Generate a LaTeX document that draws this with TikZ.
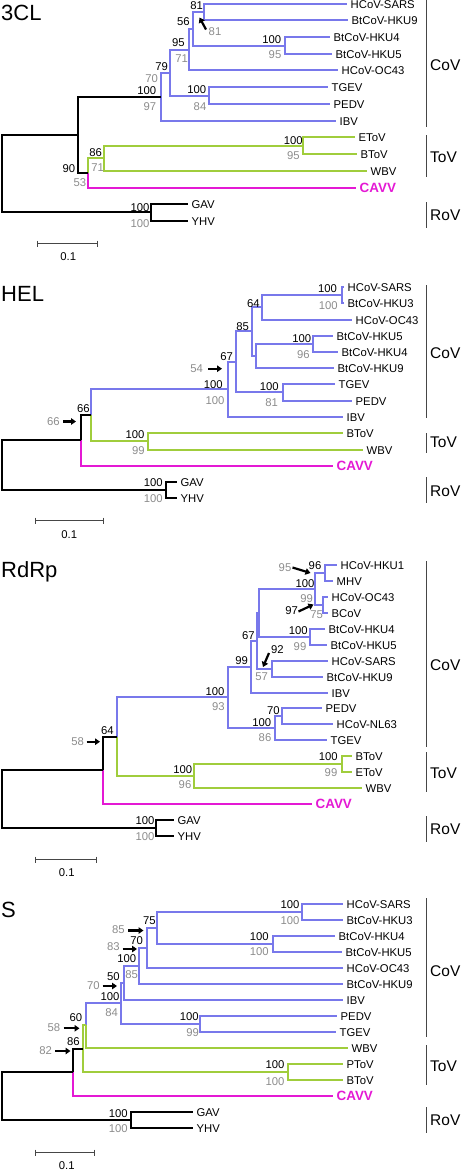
\documentclass[tikz,border=0pt]{standalone}
\usepackage{fontspec}
\setmainfont{Liberation Sans}
\usetikzlibrary{arrows.meta}
\definecolor{cvb}{RGB}{120,120,235}
\definecolor{tvg}{RGB}{160,205,60}
\definecolor{cav}{RGB}{228,25,212}
\definecolor{bsgc}{RGB}{140,140,140}
\definecolor{barc}{RGB}{70,70,70}
\begin{document}
\begin{tikzpicture}[x=1pt,y=-1pt,
 brB/.style={draw=cvb,line width=2pt},
 brG/.style={draw=tvg,line width=2pt},
 brM/.style={draw=cav,line width=2pt},
 brK/.style={draw=black,line width=2pt},
 leaf/.style={anchor=west,inner xsep=3.5pt,inner ysep=0pt,text height=8.1pt,text depth=0pt,font=\fontsize{11.3}{12}\selectfont},
 cavv/.style={anchor=west,inner xsep=3.5pt,inner ysep=0pt,text height=9.6pt,text depth=0pt,text=cav,font=\fontsize{13.4}{14}\selectfont\bfseries},
 bsK/.style={inner sep=0pt,text height=8.1pt,text depth=0pt,font=\fontsize{11.3}{12}\selectfont},
 bsG/.style={bsK,text=bsgc},
 ttl/.style={anchor=west,inner sep=0pt,text height=15.8pt,text depth=0pt,font=\fontsize{22}{24}\selectfont},
 grp/.style={anchor=west,inner xsep=3pt,inner ysep=0pt,text height=11.1pt,text depth=0pt,font=\fontsize{15.5}{17}\selectfont},
 gbar/.style={draw=barc,line width=1pt},
 sbar/.style={draw=barc,line width=1pt},
 barrow/.style={draw=black,line width=2.2pt,-{Triangle[length=5pt,width=6.5pt]}},
]
\useasboundingbox (0,0) rectangle (462,1170);

%%%%%%%%%%%%%%%% Panel A: 3CL
\node[ttl] (aT) at (1,12.8) {3CL};
\coordinate (a81) at (204,12);
\coordinate (a45) at (285,46);
\coordinate (a56) at (193,29);
\coordinate (a95) at (189,50);
\coordinate (aTP) at (209,96);
\coordinate (a79) at (170,73);
\coordinate (aCoV) at (161,97);
\coordinate (aEB) at (303,146);
\coordinate (aToV) at (104,158);
\coordinate (aTC) at (88,173);
\coordinate (a90) at (78,135);
\coordinate (aRo) at (151,212);
\coordinate (aR) at (2,174);
\node[leaf] (aSARS) at (347,4) {HCoV-SARS};
\node[leaf] (aHKU9) at (348,20) {BtCoV-HKU9};
\node[leaf] (aHKU4) at (330,37) {BtCoV-HKU4};
\node[leaf] (aHKU5) at (332,54) {BtCoV-HKU5};
\node[leaf] (aOC43) at (338,70) {HCoV-OC43};
\node[leaf] (aTGEV) at (328,87) {TGEV};
\node[leaf] (aPEDV) at (330,104) {PEDV};
\node[leaf] (aIBV) at (336,121) {IBV};
\node[leaf] (aEToV) at (355,137) {EToV};
\node[leaf] (aBToV) at (357,154) {BToV};
\node[leaf] (aWBV) at (367,171) {WBV};
\node[cavv] (aCAVV) at (356,188) {CAVV};
\node[leaf] (aGAV) at (188,204) {GAV};
\node[leaf] (aYHV) at (188,221) {YHV};
\draw[brB] (a81) |- (aSARS.west) (a81) |- (aHKU9.west);
\draw[brB] (a45) |- (aHKU4.west) (a45) |- (aHKU5.west);
\draw[brB] (a56) |- (a81) (a56) |- (a45);
\draw[brB] (a95) |- (a56) (a95) |- (aOC43.west);
\draw[brB] (aTP) |- (aTGEV.west) (aTP) |- (aPEDV.west);
\draw[brB] (a79) |- (a95) (a79) |- (aTP);
\draw[brB] (aCoV) |- (a79) (aCoV) |- (aIBV.west);
\draw[brG] (aEB) |- (aEToV.west) (aEB) |- (aBToV.west);
\draw[brG] (aToV) |- (aEB) (aToV) |- (aWBV.west);
\draw[brG] (aTC) |- (aToV);
\draw[brM] (aTC) |- (aCAVV.west);
\draw[brK] (a90) |- (aCoV) (a90) |- (aTC);
\draw[brK] (aRo) |- (aGAV.west) (aRo) |- (aYHV.west);
\draw[brK] (aR) |- (a90) (aR) |- (aRo);
\node[bsK] (a81b) at (196.7,5) {81};
\node[bsG] (a81g) at (215,31.7) {81};
\coordinate (a81s) at (206,29.5);
\coordinate (a81t) at (199.5,17.5);
\draw[barrow] (a81s) -- (a81t);
\node[bsK] (a56b) at (183.3,21.7) {56};
\node[bsK] (a95b) at (178.3,42.7) {95};
\node[bsG] (a95g) at (181.7,58.3) {71};
\node[bsK] (a79b) at (161.7,66.7) {79};
\node[bsG] (a79g) at (151.7,78.3) {70};
\node[bsK] (aCoVb) at (146.7,90) {100};
\node[bsG] (aCoVg) at (150,106.7) {97};
\node[bsK] (a45b) at (271.7,39.3) {100};
\node[bsG] (a45g) at (275,54) {95};
\node[bsK] (aTPb) at (196.7,89.3) {100};
\node[bsG] (aTPg) at (200,106) {84};
\node[bsK] (aEBb) at (293.3,140) {100};
\node[bsG] (aEBg) at (293.3,155) {95};
\node[bsK] (aToVb) at (95.7,152.7) {86};
\node[bsG] (aToVg) at (97.7,167.7) {71};
\node[bsK] (aTCb) at (69,168.3) {90};
\node[bsG] (aTCg) at (80,182.7) {53};
\node[bsK] (aRob) at (140,207.3) {100};
\node[bsG] (aRog) at (140,223.3) {100};
\coordinate (aC1) at (426.5,0); \coordinate (aC2) at (426.5,127);
\draw[gbar] (aC1) -- (aC2); \node[grp] (aCl) at (427,65) {CoV};
\coordinate (aT1) at (426.5,135); \coordinate (aT2) at (426.5,177);
\draw[gbar] (aT1) -- (aT2); \node[grp] (aTl) at (427,156.7) {ToV};
\coordinate (aR1) at (426.5,202); \coordinate (aR2) at (426.5,228);
\draw[gbar] (aR1) -- (aR2); \node[grp] (aRl) at (427,215) {RoV};
\coordinate (aS1) at (37.5,243.5); \coordinate (aS2) at (97.5,243.5);
\draw[sbar] (aS1) -- (aS2);
\draw[sbar] ([yshift=3pt]aS1) -- ([yshift=-3pt]aS1);
\draw[sbar] ([yshift=3pt]aS2) -- ([yshift=-3pt]aS2);
\node[bsK] (aSl) at (68.3,256.7) {0.1};

%%%%%%%%%%%%%%%% Panel B: HEL
\node[ttl] (bT) at (1,293.7) {HEL};
\coordinate (bSH) at (342,295);
\coordinate (b64) at (262,307);
\coordinate (b54) at (313,344);
\coordinate (b549) at (256,356);
\coordinate (b85) at (252,331);
\coordinate (bTP) at (283,392);
\coordinate (b67) at (236,362);
\coordinate (bCoV) at (228,389);
\coordinate (bToV) at (148,441);
\coordinate (b91) at (91,415);
\coordinate (b66) at (81,440);
\coordinate (bRo) at (166,490);
\coordinate (bR) at (2,465);
\node[leaf] (bSARS) at (344,287) {HCoV-SARS};
\node[leaf] (bHKU3) at (344,303) {BtCoV-HKU3};
\node[leaf] (bOC43) at (352,320) {HCoV-OC43};
\node[leaf] (bHKU5) at (333,336) {BtCoV-HKU5};
\node[leaf] (bHKU4) at (338,352) {BtCoV-HKU4};
\node[leaf] (bHKU9) at (334,368) {BtCoV-HKU9};
\node[leaf] (bTGEV) at (335,384) {TGEV};
\node[leaf] (bPEDV) at (352,401) {PEDV};
\node[leaf] (bIBV) at (343,417) {IBV};
\node[leaf] (bBToV) at (343,433) {BToV};
\node[leaf] (bWBV) at (363,450) {WBV};
\node[cavv] (bCAVV) at (333,466) {CAVV};
\node[leaf] (bGAV) at (177,482) {GAV};
\node[leaf] (bYHV) at (177,498) {YHV};
\draw[brB] (bSH) |- (bSARS.west) (bSH) |- (bHKU3.west);
\draw[brB] (b64) |- (bSH) (b64) |- (bOC43.west);
\draw[brB] (b54) |- (bHKU5.west) (b54) |- (bHKU4.west);
\draw[brB] (b549) |- (b54) (b549) |- (bHKU9.west);
\draw[brB] (b85) |- (b64) (b85) |- (b549);
\draw[brB] (bTP) |- (bTGEV.west) (bTP) |- (bPEDV.west);
\draw[brB] (b67) |- (b85) (b67) |- (bTP);
\draw[brB] (bCoV) |- (b67) (bCoV) |- (bIBV.west);
\draw[brB] (b91) |- (bCoV);
\draw[brG] (bToV) |- (bBToV.west) (bToV) |- (bWBV.west);
\draw[brG] (b91) |- (bToV);
\draw[brK] (b66) |- (b91);
\draw[brM] (b66) |- (bCAVV.west);
\draw[brK] (bRo) |- (bGAV.west) (bRo) |- (bYHV.west);
\draw[brK] (bR) |- (b66) (bR) |- (bRo);
\node[bsK] (bSHb) at (327.5,288.3) {100};
\node[bsG] (bSHg) at (328.3,305.7) {100};
\node[bsK] (b64b) at (253.3,303.3) {64};
\node[bsK] (b85b) at (242.7,326.7) {85};
\node[bsK] (b54b) at (301.7,338.3) {100};
\node[bsG] (b54g) at (303.3,354.3) {96};
\node[bsK] (b67b) at (226.7,356) {67};
\node[bsG] (b67g) at (196.7,368.7) {54};
\coordinate (b67s) at (208,368.7); \coordinate (b67t) at (222,368.7);
\draw[barrow] (b67s) -- (b67t);
\node[bsK] (bCoVb) at (213.3,384) {100};
\node[bsG] (bCoVg) at (215,400) {100};
\node[bsK] (bTPb) at (269.3,386) {100};
\node[bsG] (bTPg) at (271.7,402.7) {81};
\node[bsK] (bToVb) at (135,434.3) {100};
\node[bsG] (bToVg) at (138.3,450) {99};
\node[bsK] (b91b) at (83.3,408.3) {66};
\node[bsG] (b91g) at (53.3,421) {66};
\coordinate (b91s) at (63,421.5); \coordinate (b91t) at (76,421.5);
\draw[barrow] (b91s) -- (b91t);
\node[bsK] (bRob) at (153.3,482.3) {100};
\node[bsG] (bRog) at (153.3,498.3) {100};
\coordinate (bC1) at (426.5,285); \coordinate (bC2) at (426.5,418);
\draw[gbar] (bC1) -- (bC2); \node[grp] (bCl) at (427,353.3) {CoV};
\coordinate (bT1) at (426.5,433); \coordinate (bT2) at (426.5,453);
\draw[gbar] (bT1) -- (bT2); \node[grp] (bTl) at (427,441.7) {ToV};
\coordinate (bR1) at (426.5,477); \coordinate (bR2) at (426.5,503);
\draw[gbar] (bR1) -- (bR2); \node[grp] (bRl) at (427,491) {RoV};
\coordinate (bS1) at (35.5,520.5); \coordinate (bS2) at (103.5,520.5);
\draw[sbar] (bS1) -- (bS2);
\draw[sbar] ([yshift=3pt]bS1) -- ([yshift=-3pt]bS1);
\draw[sbar] ([yshift=3pt]bS2) -- ([yshift=-3pt]bS2);
\node[bsK] (bSl) at (69.3,534) {0.1};

%%%%%%%%%%%%%%%% Panel C: RdRp
\node[ttl] (cT) at (1,569.6) {RdRp};
\coordinate (cHM) at (325,573);
\coordinate (cOB) at (323,605);
\coordinate (cA) at (315,589);
\coordinate (c45) at (310,637);
\coordinate (cB) at (259,613);
\coordinate (cSH) at (272,669);
\coordinate (c67) at (257,641);
\coordinate (c99) at (251,667);
\coordinate (cPN) at (282,716);
\coordinate (cPNT) at (275,728);
\coordinate (cCoV) at (228,697);
\coordinate (cBE) at (342,764);
\coordinate (cToV) at (194,776);
\coordinate (cCT) at (117,737);
\coordinate (c64) at (103,770);
\coordinate (cRo) at (156,828);
\coordinate (cR) at (2,799);
\node[leaf] (cHKU1) at (337,565) {HCoV-HKU1};
\node[leaf] (cMHV) at (333,581) {MHV};
\node[leaf] (cOC43) at (328,597) {HCoV-OC43};
\node[leaf] (cBCoV) at (328,613) {BCoV};
\node[leaf] (cHKU4) at (325,629) {BtCoV-HKU4};
\node[leaf] (cHKU5) at (327,645) {BtCoV-HKU5};
\node[leaf] (cSARS) at (328,661) {HCoV-SARS};
\node[leaf] (cHKU9) at (323,677) {BtCoV-HKU9};
\node[leaf] (cIBV) at (328,693) {IBV};
\node[leaf] (cPEDV) at (322,708) {PEDV};
\node[leaf] (cNL63) at (333,724) {HCoV-NL63};
\node[leaf] (cTGEV) at (327,740) {TGEV};
\node[leaf] (cBToV) at (352,756) {BToV};
\node[leaf] (cEToV) at (352,772) {EToV};
\node[leaf] (cWBV) at (362,788) {WBV};
\node[cavv] (cCAVV) at (312,804) {CAVV};
\node[leaf] (cGAV) at (174,820) {GAV};
\node[leaf] (cYHV) at (174,836) {YHV};
\draw[brB] (cHM) |- (cHKU1.west) (cHM) |- (cMHV.west);
\draw[brB] (cOB) |- (cOC43.west) (cOB) |- (cBCoV.west);
\draw[brB] (cA) |- (cHM) (cA) |- (cOB);
\draw[brB] (c45) |- (cHKU4.west) (c45) |- (cHKU5.west);
\draw[brB] (cB) |- (cA) (cB) |- (c45);
\draw[brB] (cSH) |- (cSARS.west) (cSH) |- (cHKU9.west);
\draw[brB] (c67) |- (cB) (c67) |- (cSH);
\draw[brB] (c99) |- (c67) (c99) |- (cIBV.west);
\draw[brB] (cPN) |- (cPEDV.west) (cPN) |- (cNL63.west);
\draw[brB] (cPNT) |- (cPN) (cPNT) |- (cTGEV.west);
\draw[brB] (cCoV) |- (c99) (cCoV) |- (cPNT);
\draw[brB] (cCT) |- (cCoV);
\draw[brG] (cBE) |- (cBToV.west) (cBE) |- (cEToV.west);
\draw[brG] (cToV) |- (cBE) (cToV) |- (cWBV.west);
\draw[brG] (cCT) |- (cToV);
\draw[brK] (c64) |- (cCT);
\draw[brM] (c64) |- (cCAVV.west);
\draw[brK] (cRo) |- (cGAV.west) (cRo) |- (cYHV.west);
\draw[brK] (cR) |- (c64) (cR) |- (cRo);
\node[bsK] (cHMb) at (315,565) {96};
\node[bsG] (cHMg) at (285,567.3) {95};
\coordinate (cHMs) at (292.5,567.5); \coordinate (cHMt) at (310.5,573);
\draw[barrow] (cHMs) -- (cHMt);
\node[bsK] (cAb) at (305,583.3) {100};
\node[bsG] (cOBg) at (306.7,598.3) {99};
\node[bsG] (cOBh) at (316.7,614.3) {75};
\node[bsK] (cOBb) at (291.7,610) {97};
\coordinate (cOBs) at (298.5,611.5); \coordinate (cOBt) at (313.5,604.5);
\draw[barrow] (cOBs) -- (cOBt);
\node[bsK] (c45b) at (298.3,630) {100};
\node[bsG] (c45g) at (300,646) {99};
\node[bsK] (c67b) at (248.3,635) {67};
\node[bsK] (c99b) at (241.7,660) {99};
\node[bsK] (cSHb) at (277.3,649.3) {92};
\coordinate (cSHs) at (269,653); \coordinate (cSHt) at (263,667);
\draw[barrow] (cSHs) -- (cSHt);
\node[bsG] (cSHg) at (261.7,676) {57};
\node[bsK] (cCoVb) at (215,691.7) {100};
\node[bsG] (cCoVg) at (218.3,706.7) {93};
\node[bsK] (cPNb) at (273.3,710.5) {70};
\node[bsK] (cPNTb) at (261.7,722.2) {100};
\node[bsG] (cPNTg) at (265,737.3) {86};
\node[bsK] (cToVb) at (182.7,769.3) {100};
\node[bsG] (cToVg) at (185,784) {96};
\node[bsK] (cBEb) at (328.3,756.7) {100};
\node[bsG] (cBEg) at (331,772.7) {99};
\node[bsK] (c64b) at (107.3,730) {64};
\node[bsG] (c64g) at (77.7,741.7) {58};
\coordinate (c64s) at (86.5,741.7); \coordinate (c64t) at (100,741.7);
\draw[barrow] (c64s) -- (c64t);
\node[bsK] (cRob) at (145,820) {100};
\node[bsG] (cRog) at (145,836) {100};
\coordinate (cC1) at (426.5,561); \coordinate (cC2) at (426.5,747);
\draw[gbar] (cC1) -- (cC2); \node[grp] (cCl) at (427,665) {CoV};
\coordinate (cT1) at (426.5,752); \coordinate (cT2) at (426.5,792);
\draw[gbar] (cT1) -- (cT2); \node[grp] (cTl) at (427,773.3) {ToV};
\coordinate (cR1) at (426.5,816); \coordinate (cR2) at (426.5,842);
\draw[gbar] (cR1) -- (cR2); \node[grp] (cRl) at (427,829.3) {RoV};
\coordinate (cS1) at (35.5,859.5); \coordinate (cS2) at (96.5,859.5);
\draw[sbar] (cS1) -- (cS2);
\draw[sbar] ([yshift=3pt]cS1) -- ([yshift=-3pt]cS1);
\draw[sbar] ([yshift=3pt]cS2) -- ([yshift=-3pt]cS2);
\node[bsK] (cSl) at (66.7,872.7) {0.1};

%%%%%%%%%%%%%%%% Panel D: S
\node[ttl] (dT) at (1,909.2) {S};
\coordinate (dSH) at (302,912);
\coordinate (d45) at (273,944);
\coordinate (d75) at (157,928);
\coordinate (d70) at (147,948);
\coordinate (dX) at (139,966);
\coordinate (d50) at (124,983);
\coordinate (dPT) at (200,1024);
\coordinate (dCoV) at (121,1003);
\coordinate (d60) at (86,1025);
\coordinate (dPB) at (288,1072);
\coordinate (d82) at (83,1049);
\coordinate (d86) at (73,1072);
\coordinate (dRo) at (131,1120);
\coordinate (dR) at (2,1096);
\node[leaf] (dSARS) at (343,904) {HCoV-SARS};
\node[leaf] (dHKU3) at (343,920) {BtCoV-HKU3};
\node[leaf] (dHKU4) at (335,936) {BtCoV-HKU4};
\node[leaf] (dHKU5) at (342,952) {BtCoV-HKU5};
\node[leaf] (dOC43) at (343,968) {HCoV-OC43};
\node[leaf] (dHKU9) at (343,984) {BtCoV-HKU9};
\node[leaf] (dIBV) at (343,1000) {IBV};
\node[leaf] (dPEDV) at (337,1016) {PEDV};
\node[leaf] (dTGEV) at (336,1032) {TGEV};
\node[leaf] (dWBV) at (348,1048) {WBV};
\node[leaf] (dPToV) at (343,1064) {PToV};
\node[leaf] (dBToV) at (343,1080) {BToV};
\node[cavv] (dCAVV) at (333,1096) {CAVV};
\node[leaf] (dGAV) at (193,1112) {GAV};
\node[leaf] (dYHV) at (193,1128) {YHV};
\draw[brB] (dSH) |- (dSARS.west) (dSH) |- (dHKU3.west);
\draw[brB] (d45) |- (dHKU4.west) (d45) |- (dHKU5.west);
\draw[brB] (d75) |- (dSH) (d75) |- (d45);
\draw[brB] (d70) |- (d75) (d70) |- (dOC43.west);
\draw[brB] (dX) |- (d70) (dX) |- (dHKU9.west);
\draw[brB] (d50) |- (dX) (d50) |- (dIBV.west);
\draw[brB] (dPT) |- (dPEDV.west) (dPT) |- (dTGEV.west);
\draw[brB] (dCoV) |- (d50) (dCoV) |- (dPT);
\draw[brB] (d60) |- (dCoV);
\draw[brG] (d60) |- (dWBV.west);
\draw[brG] (d82) |- (d60) (d82) |- (dPB);
\draw[brG] (dPB) |- (dPToV.west) (dPB) |- (dBToV.west);
\draw[brK] (d86) |- (d82);
\draw[brM] (d86) |- (dCAVV.west);
\draw[brK] (dRo) |- (dGAV.west) (dRo) |- (dYHV.west);
\draw[brK] (dR) |- (d86) (dR) |- (dRo);
\node[bsK] (dSHb) at (290,904) {100};
\node[bsG] (dSHg) at (290,920) {100};
\node[bsK] (d45b) at (259.3,936) {100};
\node[bsG] (d45g) at (259.3,951.7) {100};
\node[bsK] (d75b) at (149.3,920.7) {75};
\node[bsG] (d75g) at (118.3,929) {85};
\coordinate (d75s) at (128,930.5); \coordinate (d75t) at (143.5,930.5);
\draw[barrow] (d75s) -- (d75t);
\node[bsK] (d70b) at (136.7,940.7) {70};
\node[bsG] (d70g) at (113.3,946.7) {83};
\coordinate (d70s) at (122.5,949); \coordinate (d70t) at (137,949);
\draw[barrow] (d70s) -- (d70t);
\node[bsK] (dXb) at (126.7,958.3) {100};
\node[bsG] (dXg) at (131.7,974) {85};
\node[bsK] (d50b) at (113.3,976) {50};
\node[bsG] (d50g) at (93.3,985) {70};
\coordinate (d50s) at (102.5,986); \coordinate (d50t) at (117,986);
\draw[barrow] (d50s) -- (d50t);
\node[bsK] (dCoVb) at (110,996.7) {100};
\node[bsG] (dCoVg) at (111.7,1012.7) {84};
\node[bsK] (dPTb) at (189.3,1016) {100};
\node[bsG] (dPTg) at (192.7,1032.7) {99};
\node[bsK] (d60b) at (76,1017.7) {60};
\node[bsG] (d60g) at (54,1027.7) {58};
\coordinate (d60s) at (63.5,1028.3); \coordinate (d60t) at (79.5,1028.3);
\draw[barrow] (d60s) -- (d60t);
\node[bsK] (d86b) at (73.3,1041.7) {86};
\node[bsG] (d86g) at (45.7,1050) {82};
\coordinate (d86s) at (55,1051); \coordinate (d86t) at (70.5,1051);
\draw[barrow] (d86s) -- (d86t);
\node[bsK] (dPBb) at (275,1064.3) {100};
\node[bsG] (dPBg) at (275,1081) {100};
\node[bsK] (dRob) at (118.3,1113.3) {100};
\node[bsG] (dRog) at (118.3,1128.3) {100};
\coordinate (dC1) at (426.5,898); \coordinate (dC2) at (426.5,1037);
\draw[gbar] (dC1) -- (dC2); \node[grp] (dCl) at (427,970.7) {CoV};
\coordinate (dT1) at (426.5,1045); \coordinate (dT2) at (426.5,1085);
\draw[gbar] (dT1) -- (dT2); \node[grp] (dTl) at (427,1066) {ToV};
\coordinate (dR1) at (426.5,1107); \coordinate (dR2) at (426.5,1133);
\draw[gbar] (dR1) -- (dR2); \node[grp] (dRl) at (427,1120) {RoV};
\coordinate (dS1) at (35.5,1152.5); \coordinate (dS2) at (94.5,1152.5);
\draw[sbar] (dS1) -- (dS2);
\draw[sbar] ([yshift=3pt]dS1) -- ([yshift=-3pt]dS1);
\draw[sbar] ([yshift=3pt]dS2) -- ([yshift=-3pt]dS2);
\node[bsK] (dSl) at (66.7,1165.7) {0.1};
\end{tikzpicture}
\end{document}
